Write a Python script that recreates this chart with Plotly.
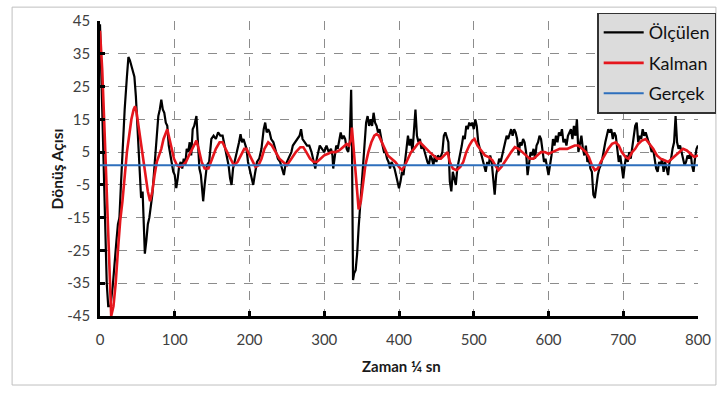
import plotly.graph_objects as go

# ---- data ----
measured_x = [0, 3, 6, 9, 11, 14, 17, 20, 22, 24, 26, 28, 30, 33, 36, 38, 40, 42, 44, 46, 48, 50, 52, 53.5, 55, 57, 58, 60, 62, 64, 66, 68, 70, 72, 74, 76, 78, 80, 82, 84, 86, 88, 90, 92, 94, 96, 98, 100, 102, 104, 106, 108, 110, 112, 114, 116, 118, 120, 122, 124, 126, 129, 131, 133, 135, 138, 140, 143, 146, 149, 152, 155, 158, 161, 164, 167, 170, 172, 174, 176, 178, 180, 183, 186, 188, 190, 192, 194, 196, 198, 201, 203, 205, 207, 210, 213, 216, 219, 221, 223, 225, 227, 229, 232, 235, 238, 241, 244, 246, 248, 250, 253, 256, 258, 261, 264, 267, 269, 271, 274, 277, 280, 283, 286, 288, 290, 292, 294, 297, 300, 303, 306, 309, 311, 312, 314, 316, 318, 320, 322, 324, 326, 328, 330, 332, 334, 336, 337, 338.5, 340, 342, 344, 346, 348, 350, 352, 354, 356, 358, 360, 362, 364, 366, 368, 370, 372, 374, 376, 378, 380, 382, 384, 386, 388, 390, 392, 394, 396, 398, 400, 402, 404, 406, 408, 410, 412, 414, 416, 418, 420, 422, 424, 426, 428, 430, 432, 434, 436, 438, 440, 442, 444, 446, 448, 450, 452, 455, 458, 460, 462, 464, 466, 468, 470, 472, 474, 476, 478, 480, 482, 484, 486, 488, 490, 492, 494, 496, 498, 500, 502, 504, 506, 508, 510, 512, 514, 516, 518, 520, 522, 524, 526, 528, 530, 532, 534, 536, 538, 540, 542, 544, 546, 548, 550, 552, 554, 556, 558, 560, 562, 564, 566, 568, 570, 572, 574, 576, 578, 580, 582, 584, 586, 588, 590, 592, 594, 596, 598, 600, 602, 604, 606, 608, 610, 612, 614, 616, 618, 620, 622, 624, 626, 628, 630, 632, 634, 636, 638, 640, 642, 644, 646, 648, 650, 652, 654, 656, 658, 660, 662, 664, 666, 668, 670, 672, 674, 676, 678, 680, 682, 684, 686, 688, 690, 692, 694, 696, 698, 700, 702, 704, 706, 708, 710, 712, 714, 716, 718, 720, 722, 724, 726, 728, 730, 732, 734, 736, 738, 740, 742, 744, 746, 748, 750, 752, 754, 756, 758, 760, 762, 764, 766, 768, 770, 772, 774, 776, 778, 780, 782, 784, 786, 788, 790, 792, 794, 796, 798, 800]
measured_y = [44, 20, -10, -35, -42, -42, -36, -26, -22, -17, -15, -5, 5, 18, 28, 34, 33, 31, 29, 28, 22, 12, 2, -6, -9, -7, -14, -26, -22, -17, -15, -12, -8, -2, 4, 11, 16, 18, 21, 18, 17, 14, 13, 7, 4, 1, -1, -2, -6, -3, 1, 2, 0, 3, 1, 6, 5, 8, 4, 12, 13, 16, 8, 0, -2, -10, -5, 1, 2, 9, 10, 9, 11, 10, 10, 7, 3, 1, -3, -5, 0, 2, 4, 8, 10.5, 8, 9, 7, 6, 2, -1, -4, -5, -2, 2, 3, 6, 12, 14, 11, 12, 11, 9, 8, 5, 3, 2, 0, -2, 1, 2, 3, 5, 7, 8, 9, 10, 12, 9, 8, 7, 7, 5, 2, 0, 3, 5, 7, 6, 5, 7, 5, 6, 4, 0, 3, 7, 6, 8, 11, 9, 10, 9, 6, 5, 8, 24, 10, -34, -32, -31, -26, -18, -12, -6, 0, 6, 14, 16, 13, 15, 13, 17, 14, 13, 11, 12, 9, 7, 5, 5, 3, 2, 0, 2, 1, 0, -2, -4, -6, -4, -1, -2, 2, 6, 10, 7, 9, 5, 13, 18, 10, 8, 9, 6, 7, 5, 3, 2, 1, 4, 3, 1, 4, 2, 4, 3, 5, 10, 11, 9, 8, -4, -7, -1, -3, -5, 0, 2, 5, 7, 10, 9, 13, 12, 14, 13, 14, 12, 15, 13, 8, 6, 4, 2, 0, -1, 2, 1, 4, 2, -3, -8, -2, 1, 3, 2, 4, 5, 8, 10, 9, 11, 12, 10, 12, 11, 9, 4, 8, 7, 9, 8, 5, -2, 2, 5, 4, 6, 3, 7, 8, 10, 9, 6, 2, 3, 0, -2, 1, 4, 9, 7, 10, 8, 11, 10, 12, 8, 9, 7, 10, 11, 12, 9, 13, 10, 15, 5, 8, 10, 6, 4, 7, 2, 3, 0, -1, -8, -9, -5, -2, 0, 1, 3, 6, 8, 10, 12, 11, 12, 9, 11, 10, 6, 2, 4, 0, -3, 1, 4, 2, 5, 3, 7, 10, 13, 14, 8, 10, 9, 12, 10, 11, 9, 8, 7, 5, 6, 2, 0, -1, 2, 1, 3, -1, 2, 0, -2, 2, 3, 6, 8, 16, 8, 6, 7, 5, 3, 1, 2, 4, 3, 5, 1, -1, 3, 6, 7]

kalman_x = [0, 3, 6, 9, 12, 15, 18, 21, 24, 27, 30, 33, 36, 39, 42, 45, 47, 49, 52, 55, 58, 61, 64, 67, 70, 73, 76, 79, 82, 85, 88, 90, 93, 96, 99, 103, 107, 111, 115, 119, 123, 127, 129, 132, 136, 140, 145, 150, 155, 160, 164, 168, 172, 176, 179, 184, 189, 193, 196, 200, 204, 208, 212, 216, 220, 225, 230, 235, 240, 245, 250, 256, 262, 268, 272, 276, 281, 286, 290, 295, 300, 305, 310, 315, 320, 325, 330, 333, 336, 337, 340, 343, 346, 349, 352, 355, 359, 363, 367, 370, 373, 377, 381, 385, 390, 395, 400, 404, 408, 412, 416, 420, 425, 428, 432, 436, 441, 446, 451, 456, 461, 465, 468, 472, 477, 482, 486, 490, 494, 498, 501, 505, 510, 515, 520, 525, 530, 533, 537, 541, 545, 550, 555, 560, 565, 570, 575, 580, 585, 590, 595, 600, 605, 610, 615, 620, 625, 630, 635, 640, 645, 650, 654, 658, 662, 666, 670, 675, 680, 685, 690, 694, 698, 703, 707, 712, 716, 720, 725, 730, 735, 740, 745, 750, 755, 760, 765, 770, 775, 780, 785, 790, 795, 800]
kalman_y = [42, 30, 12, -8, -30, -45, -42, -35, -25, -16, -10, -2, 5, 10, 15, 18, 19, 17, 12, 7, 2, -3, -7, -10, -7, -2, 2, 4, 6, 9, 11, 12, 9, 6, 3, 1, 0.5, 1, 2, 4, 6, 8, 8.5, 6, 2, 0, 0, 3, 6, 8, 8, 6, 4, 2, 1, 2, 4, 6, 6, 4, 2, 0.5, 1, 3, 6, 8, 7, 5, 3, 2, 1, 3, 5, 6.5, 6.5, 5, 3, 2, 2, 3, 4, 4.5, 5, 5, 5.5, 6.5, 7.5, 7, 9, 12.5, 4, -6, -12.5, -10, -4, 1, 5, 8, 10, 10.5, 10, 8, 6, 4, 3, 2, 0.5, -0.5, 1, 3, 5, 6, 7.5, 8, 7, 6, 5, 4, 3, 3, 4, 5, 2, 0, -0.5, 0.5, 2, 5, 7, 8.5, 9, 7, 5.5, 4, 3.5, 2.5, 0.5, -0.5, 0.5, 2, 3.5, 5, 6.5, 6, 5, 4, 3, 3, 4, 5, 5, 4.5, 5, 5.5, 6, 6, 6, 6.5, 7, 7, 6, 5, 3.5, 1, -0.5, 0, 2, 4, 6, 7.5, 8, 7, 5, 3.5, 3, 5, 6, 7.5, 8.5, 9, 7.5, 6, 4, 3, 2.5, 2, 3, 4, 5, 6, 5.5, 4.5, 3.5, 4]

true_x = [0, 800]
true_y = [1, 1]

x_ticks = [0, 100, 200, 300, 400, 500, 600, 700, 800]
y_ticks = [-45, -35, -25, -15, -5, 5, 15, 25, 35, 45]

series_names = ["Ölçülen", "Kalman", "Gerçek"]
x_title = "Zaman ¼ sn"
y_title = "Dönüş Açısı"

FONT = "Lato, 'Open Sans', sans-serif"

fig = go.Figure()
fig.add_trace(go.Scatter(x=measured_x, y=measured_y, mode="lines", name=series_names[0],
                         line=dict(color="#000000", width=2.2), legendgroup="a"))
fig.add_trace(go.Scatter(x=kalman_x, y=kalman_y, mode="lines", name=series_names[1],
                         line=dict(color="#e5161d", width=2.6), legendgroup="b"))
fig.add_trace(go.Scatter(x=true_x, y=true_y, mode="lines", name=series_names[2],
                         line=dict(color="#2e6fbd", width=2), legendgroup="c"))

fig.update_layout(
    width=723, height=398,
    margin=dict(l=100, r=25, t=21, b=82, autoexpand=False),
    paper_bgcolor="white", plot_bgcolor="white",
    font=dict(family=FONT, size=14, color="#404040"),
    showlegend=True,
    legend=dict(xref="container", yref="container", x=0.826, y=0.968,
                xanchor="left", yanchor="top",
                bgcolor="#dcdcdc", bordercolor="#333333", borderwidth=1.5,
                font=dict(family=FONT, size=18, color="#111111"),
                traceorder="grouped", tracegroupgap=4, itemwidth=40),
    xaxis=dict(range=[0, 800], tickvals=x_ticks, ticktext=[str(v) for v in x_ticks],
               showgrid=True, gridcolor="#8c8c8c", gridwidth=1.3, griddash="dash",
               showline=True, linecolor="#000000", linewidth=2.5,
               ticks="inside", ticklen=5, tickwidth=2.5, tickcolor="#000000",
               ticklabelstandoff=8,
               zeroline=False, tickfont=dict(size=15, color="#404040")),
    yaxis=dict(range=[-45, 45], tickvals=y_ticks, ticktext=[str(v) for v in y_ticks],
               showgrid=True, gridcolor="#8c8c8c", gridwidth=1.3, griddash="dash",
               showline=True, linecolor="#000000", linewidth=2.5,
               ticks="inside", ticklen=5, tickwidth=2.5, tickcolor="#000000",
               ticklabelstandoff=4,
               zeroline=False, tickfont=dict(size=15, color="#404040")),
    annotations=[
        dict(text="<b>" + x_title + "</b>", xref="paper", yref="paper",
             x=0.505, y=-0.17, xanchor="center", yanchor="middle", showarrow=False,
             font=dict(family=FONT, size=15, color="#1a1a1a")),
        dict(text="<b>" + y_title + "</b>", xref="paper", yref="paper",
             x=-0.072, y=0.5, xanchor="center", yanchor="middle", showarrow=False,
             textangle=-90, font=dict(family=FONT, size=15.5, color="#1a1a1a")),
    ],
    shapes=[dict(type="rect", xref="paper", yref="paper",
                 x0=-0.147, x1=1.03, y0=-0.234, y1=1.047,
                 line=dict(color="#bfbfbf", width=1), layer="below")],
)

fig.write_html("out.html", config={"displayModeBar": False},
               post_script="document.body.style.margin='0px';")
